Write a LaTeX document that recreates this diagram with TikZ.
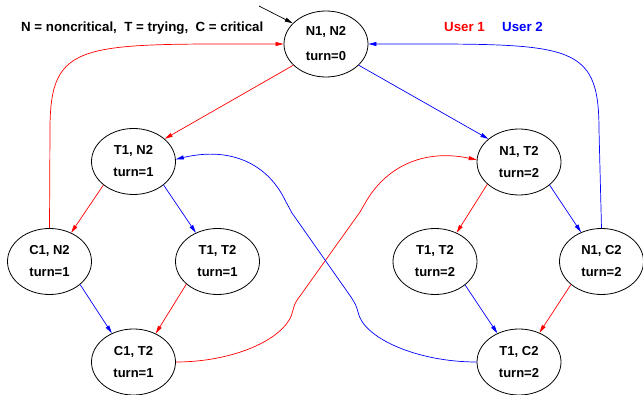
\documentclass[tikz,border=0pt]{standalone}
\usepackage{fontspec}
\setmainfont{Liberation Sans}
\usetikzlibrary{shapes.geometric,arrows.meta}
\begin{document}
\begin{tikzpicture}[x=1pt,y=-1pt,
  state/.style={ellipse,draw=black,line width=0.8pt,minimum width=84pt,minimum height=66pt,inner sep=0pt,align=center,
    font=\bfseries\fontsize{13}{15}\selectfont},
  lbl/.style={inner sep=0pt,anchor=base west,font=\bfseries\fontsize{13.3}{15}\selectfont},
  tr/.style={line width=0.7pt,-{Triangle[length=8pt,width=4pt]}},
  u1/.style={tr,draw={rgb,255:red,255;green,0;blue,0}},
  u2/.style={tr,draw={rgb,255:red,0;green,0;blue,255}}]
\definecolor{ured}{RGB}{255,0,0}
\definecolor{ublue}{RGB}{0,0,255}
\useasboundingbox (0,0) rectangle (643,395);

\node[state] (nn) at (326,44) {N1, N2\\[10pt]turn=0};
\node[state] (tn) at (133.5,161.5) {T1, N2\\[7pt]turn=1};
\node[state] (nt) at (519,162) {N1, T2\\[7pt]turn=2};
\node[state] (cn) at (49.5,261.5) {C1, N2\\[7pt]turn=1};
\node[state] (ttl) at (217.5,261.5) {T1, T2\\[7pt]turn=1};
\node[state] (ttr) at (435,261.5) {T1, T2\\[7pt]turn=2};
\node[state] (nc) at (601.5,261.5) {N1, C2\\[7pt]turn=2};
\node[state] (ct) at (133.5,362) {C1, T2\\[7pt]turn=1};
\node[state] (tc) at (519,362) {T1, C2\\[7pt]turn=2};

\node[lbl] (legend) at (21,32) {N = noncritical,\ \ T = trying,\ \ C = critical};
\node[lbl,text=ured] (user1) at (444,32) {User 1};
\node[lbl,text=ublue] (user2) at (502,32) {User 2};

\coordinate (init) at (259,6);
\draw[tr,draw=black] (init) -- (nn.148);

\draw[u1] (nn.213) -- (tn.36);
\draw[u2] (nn.327) -- (nt.143);
\draw[u1] (tn.218) -- (cn.53);
\draw[u2] (tn.322) -- (ttl.127);
\draw[u2] (cn.323) -- (ct.127);
\draw[u1] (ttl.216) -- (ct.52);
\draw[u1] (nt.215) -- (ttr.53);
\draw[u2] (nt.323) -- (nc.125);
\draw[u2] (ttr.322) -- (tc.127);
\draw[u1] (nc.217) -- (tc.55);

\draw[u1] (cn.north) -- (50,130) .. controls (50,40) and (80,44) .. (nn.west);
\draw[u2] (nc.north) -- (599,130) .. controls (599,40) and (570,44) .. (nn.east);

\draw[u1] (ct.east) .. controls (235,362) and (288,338) .. (293,310)
  .. controls (295,303) .. (300,296) -- (360,212)
  .. controls (364,206) .. (367,200)
  .. controls (385,170) and (420,148) .. (nt.177);
\draw[u2] (tc.west) .. controls (417,362) and (363,338) .. (358,312)
  .. controls (356,305) .. (351,297) -- (292,213)
  .. controls (288,207) .. (285,200)
  .. controls (268,165) and (232,146) .. (tn.3);
\end{tikzpicture}
\end{document}
